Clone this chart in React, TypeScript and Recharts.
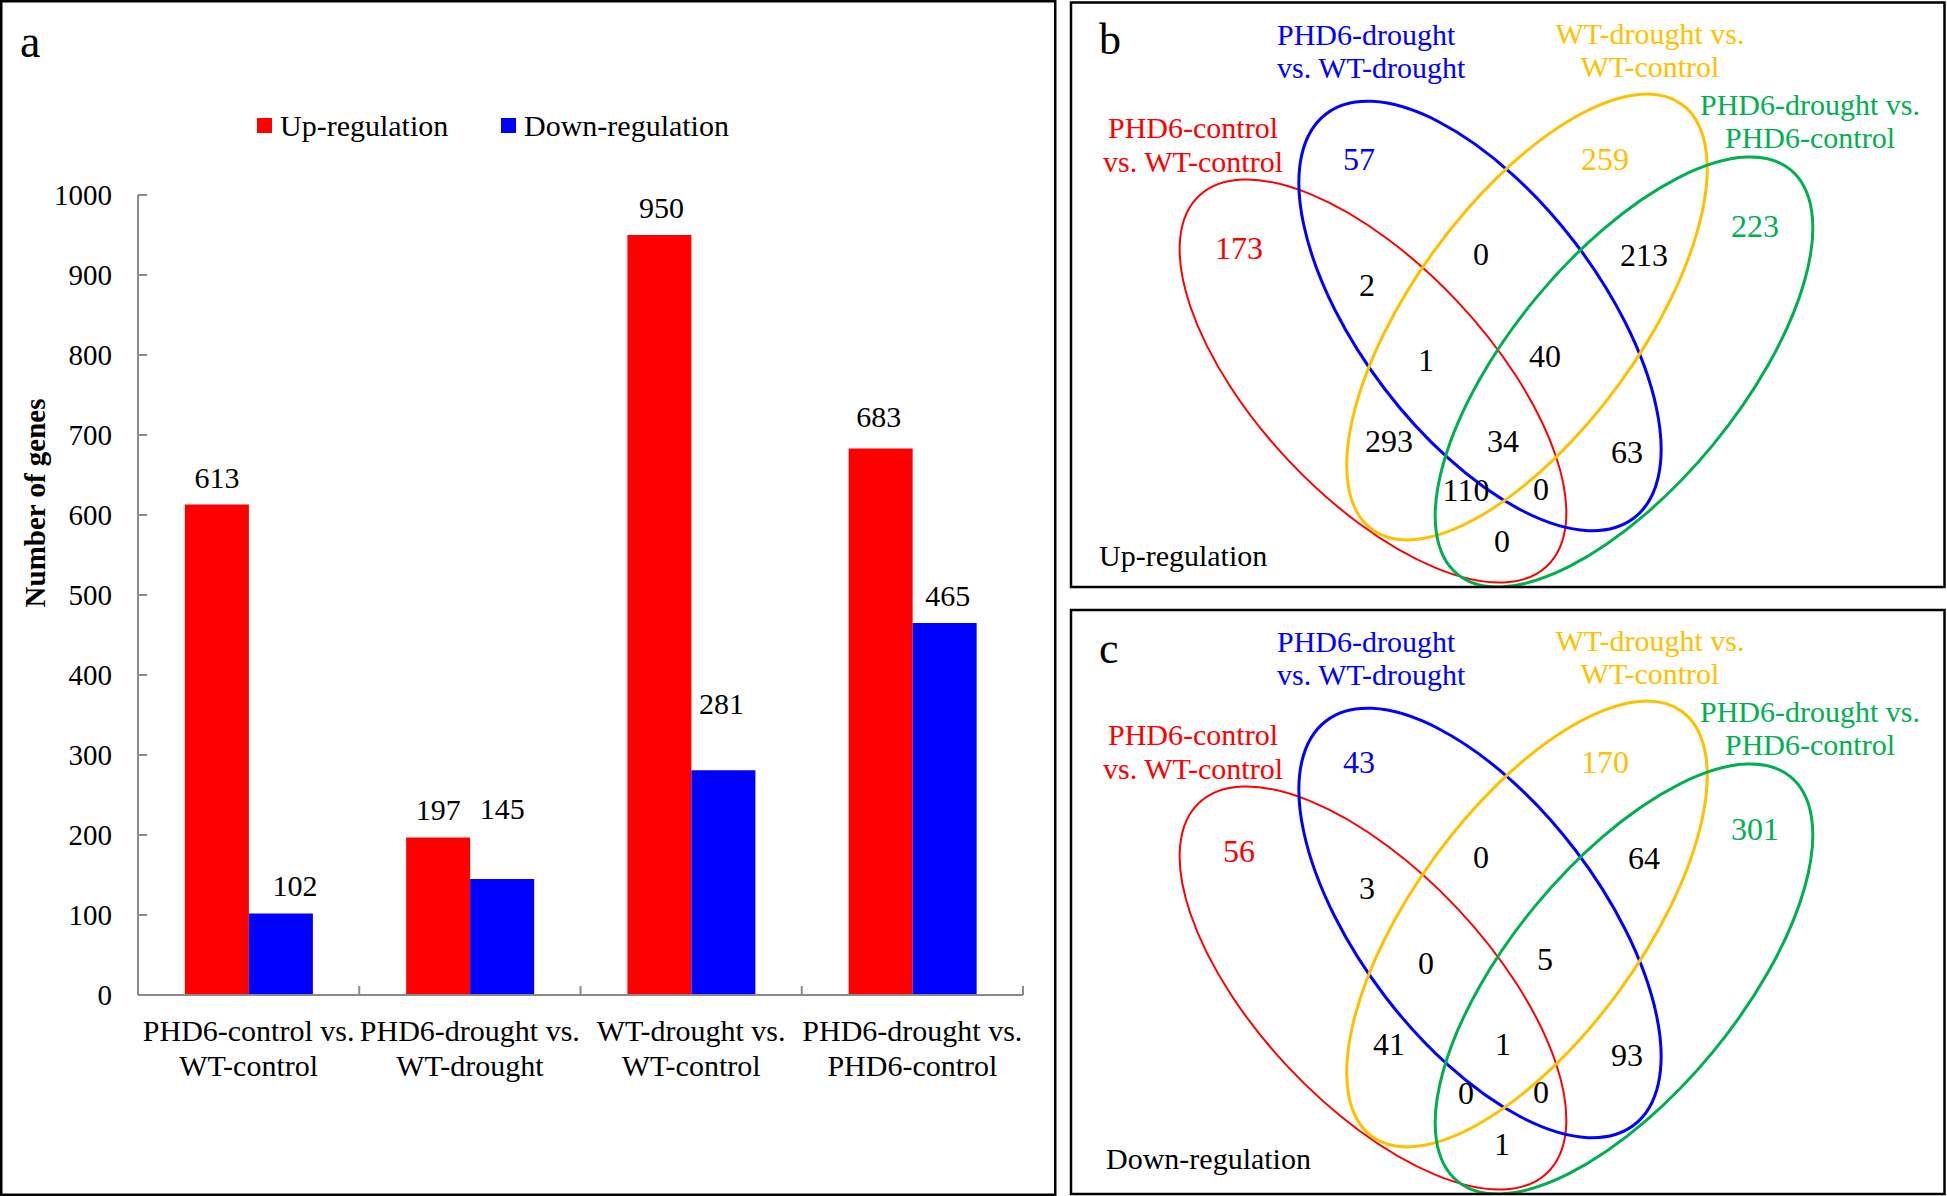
import React from "react";
import { BarChart, Bar, XAxis, YAxis, LabelList } from "recharts";

// bar chart (panel a)
const comparisons = [
  ["PHD6-control vs.", "WT-control"],
  ["PHD6-drought vs.", "WT-drought"],
  ["WT-drought vs.", "WT-control"],
  ["PHD6-drought vs.", "PHD6-control"],
];
const upGenes = [613, 197, 950, 683];
const downGenes = [102, 145, 281, 465];
const yTicks = [0, 100, 200, 300, 400, 500, 600, 700, 800, 900, 1000];
const seriesNames = ["Up-regulation", "Down-regulation"];

// venn diagrams (panels b, c)
const setLabels = [
  ["PHD6-control", "vs. WT-control"],
  ["PHD6-drought", "vs. WT-drought"],
  ["WT-drought vs.", "WT-control"],
  ["PHD6-drought vs.", "PHD6-control"],
];
// R = set 1, B = set 2, Y = set 3, G = set 4
const regionKeys = ["R", "B", "Y", "G", "BY", "RB", "YG", "RBY", "BYG", "RY", "RBYG", "BG", "RYG", "RBG", "RG"];
const upOverlap = [173, 57, 259, 223, 0, 2, 213, 1, 40, 293, 34, 63, 110, 0, 0];
const downOverlap = [56, 43, 170, 301, 0, 3, 64, 0, 5, 41, 1, 93, 0, 0, 1];

const FONT = "'Liberation Serif', 'Times New Roman', serif";
const AXIS = "#8a8a8a";
const RED = "#FF0000";
const BLUE = "#0000FF";
const SET_COLORS = ["#FF0000", "#0000FF", "#FFC000", "#00B050"];

const PLOT_LEFT = 138;
const PLOT_RIGHT = 1023;

const barData = comparisons.map((c, i) => ({
  name: c.join(" "),
  up: upGenes[i],
  down: downGenes[i],
}));

// label nudges so the numbers don't collide (as in the original figure)
const upNudge = { dx: [0, 0, 2, -2], lift: [0, 0, 0, 5] };
const downNudge = { dx: [14, 0, -2, 3], lift: [0, 43, 39, 0] };

const makeLabel = (nudge: { dx: number[]; lift: number[] }) => (props: any) => {
  const vb = props.viewBox || {};
  const x = props.x ?? vb.x;
  const y = props.y ?? vb.y;
  const w = props.width ?? vb.width;
  const i = props.index ?? 0;
  return (
    <text
      x={x + w / 2 + (nudge.dx[i] || 0)}
      y={y - 17 - (nudge.lift[i] || 0)}
      textAnchor="middle"
      fontFamily={FONT}
      fontSize={30}
      fill="#000"
    >
      {props.value}
    </text>
  );
};

const YTick = (props: any) => {
  const { x, y, payload } = props;
  return (
    <g>
      <line x1={PLOT_LEFT} x2={PLOT_LEFT + 9} y1={y} y2={y} stroke={AXIS} strokeWidth={2} />
      <text x={x} y={y} dy="0.35em" textAnchor="end" fontFamily={FONT} fontSize={29} fill="#000">
        {payload.value}
      </text>
    </g>
  );
};

const XTick = (props: any) => {
  const { x, y, index } = props;
  const half = (PLOT_RIGHT - PLOT_LEFT) / comparisons.length / 2;
  const lines = comparisons[index] || [];
  return (
    <g>
      <line x1={x + half} x2={x + half} y1={y} y2={y - 9} stroke={AXIS} strokeWidth={2} />
      <text x={x} y={y + 46} textAnchor="middle" fontFamily={FONT} fontSize={30} fill="#000">
        {lines[0]}
      </text>
      <text x={x} y={y + 81} textAnchor="middle" fontFamily={FONT} fontSize={30} fill="#000">
        {lines[1]}
      </text>
    </g>
  );
};

// ellipse shapes measured from panel b; panel c is the same shifted down
const ellipses = [
  { cx: 1373, cy: 381, rx: 254, ry: 116, rot: 46.8, w: 2 },
  { cx: 1480, cy: 316, rx: 254, ry: 120, rot: 52.7, w: 3 },
  { cx: 1527, cy: 317, rx: 263, ry: 114, rot: -53.9, w: 3 },
  { cx: 1624, cy: 372, rx: 262, ry: 115, rot: -50.5, w: 3 },
];

const regionPos: Record<string, [number, number]> = {
  R: [1239, 248],
  B: [1359, 159],
  Y: [1605, 159],
  G: [1755, 226],
  BY: [1481, 254],
  RB: [1367, 285],
  YG: [1644, 255],
  RBY: [1426, 360],
  BYG: [1545, 356],
  RY: [1389, 441],
  RBYG: [1503, 441],
  BG: [1627, 452],
  RYG: [1466, 490],
  RBG: [1541, 489],
  RG: [1502, 541],
};

const labelPos = [
  { x: 1193, y1: 127, y2: 161, anchor: "middle" },
  { x: 1277, y1: 34, y2: 67, anchor: "start" },
  { x: 1650, y1: 33, y2: 66, anchor: "middle" },
  { x: 1810, y1: 104, y2: 137, anchor: "middle" },
];

const Venn = ({
  counts,
  shift,
  numShift,
  letter,
  title,
  titleX,
  titleY,
  clipId,
}: {
  counts: number[];
  shift: number;
  numShift: number;
  letter: string;
  title: string;
  titleX: number;
  titleY: number;
  clipId: string;
}) => {
  const top = shift === 0 ? 2.5 : 610;
  const h = shift === 0 ? 584.5 : 584;
  return (
    <g>
      <defs>
        <clipPath id={clipId}>
          <rect x={1071} y={top} width={873.5} height={h} />
        </clipPath>
      </defs>
      <g clipPath={`url(#${clipId})`}>
        {ellipses.map((e, i) => (
          <ellipse
            key={i}
            cx={e.cx}
            cy={e.cy + shift}
            rx={e.rx}
            ry={e.ry}
            transform={`rotate(${e.rot} ${e.cx} ${e.cy + shift})`}
            fill="none"
            stroke={SET_COLORS[i]}
            strokeWidth={e.w}
          />
        ))}
      </g>
      <rect x={1071} y={top} width={873.5} height={h} fill="none" stroke="#000" strokeWidth={2.5} />
      <text x={1099} y={(shift === 0 ? 54 : 663)} fontFamily={FONT} fontSize={44} fill="#000">
        {letter}
      </text>
      {setLabels.map((lines, i) => (
        <g key={i} fontFamily={FONT} fontSize={30} fill={SET_COLORS[i]} textAnchor={labelPos[i].anchor as any}>
          <text x={labelPos[i].x} y={labelPos[i].y1 + shift} dy="0.35em">
            {lines[0]}
          </text>
          <text x={labelPos[i].x} y={labelPos[i].y2 + shift} dy="0.35em">
            {lines[1]}
          </text>
        </g>
      ))}
      {regionKeys.map((k, i) => {
        const [x, y] = regionPos[k];
        const color = k.length === 1 ? SET_COLORS["RBYG".indexOf(k)] : "#000";
        return (
          <text
            key={k}
            x={x}
            y={y + numShift}
            dy="0.35em"
            textAnchor="middle"
            fontFamily={FONT}
            fontSize={32}
            fill={color}
          >
            {counts[i]}
          </text>
        );
      })}
      <text x={titleX} y={titleY} fontFamily={FONT} fontSize={30} fill="#000">
        {title}
      </text>
    </g>
  );
};

export default function App() {
  return (
    <div
      style={{
        position: "absolute",
        left: 0,
        top: 0,
        width: 1947,
        height: 1196,
        background: "#fff",
        overflow: "hidden",
      }}
    >
      <div style={{ position: "absolute", left: 0, top: 0 }}>
        <BarChart
          width={1056}
          height={1196}
          data={barData}
          margin={{ top: 195, right: 1056 - PLOT_RIGHT, bottom: 81, left: PLOT_LEFT - 100 }}
          barCategoryGap="21.2%"
          barGap={0}
        >
          <XAxis
            dataKey="name"
            interval={0}
            height={120}
            tickSize={0}
            tickMargin={0}
            tickLine={false}
            axisLine={{ stroke: AXIS, strokeWidth: 2 }}
            tick={<XTick />}
          />
          <YAxis
            width={100}
            domain={[0, 1000]}
            ticks={yTicks}
            interval={0}
            tickSize={0}
            tickMargin={26}
            tickLine={false}
            axisLine={{ stroke: AXIS, strokeWidth: 2 }}
            tick={<YTick />}
          />
          <Bar dataKey="up" name={seriesNames[0]} fill={RED} isAnimationActive={false}>
            <LabelList dataKey="up" content={makeLabel(upNudge)} />
          </Bar>
          <Bar dataKey="down" name={seriesNames[1]} fill={BLUE} isAnimationActive={false}>
            <LabelList dataKey="down" content={makeLabel(downNudge)} />
          </Bar>
        </BarChart>
      </div>
      <svg
        width={1947}
        height={1196}
        style={{ position: "absolute", left: 0, top: 0, pointerEvents: "none" }}
      >
        {/* panel a frame, letter, legend, y label */}
        <rect x={1.25} y={1.25} width={1054} height={1193.5} fill="none" stroke="#000" strokeWidth={2.5} />
        <text x={20} y={57} fontFamily={FONT} fontSize={46} fill="#000">
          a
        </text>
        <rect x={257} y={118} width={15} height={15} fill={RED} />
        <text x={280} y={136} fontFamily={FONT} fontSize={30} fill="#000">
          {seriesNames[0]}
        </text>
        <rect x={501} y={118} width={15} height={15} fill={BLUE} />
        <text x={524} y={136} fontFamily={FONT} fontSize={30} fill="#000">
          {seriesNames[1]}
        </text>
        <text
          transform="translate(45 503) rotate(-90)"
          textAnchor="middle"
          fontFamily={FONT}
          fontSize={29}
          fontWeight="bold"
          fill="#000"
        >
          Number of genes
        </text>

        <Venn
          counts={upOverlap}
          shift={0}
          numShift={0}
          letter="b"
          title="Up-regulation"
          titleX={1099}
          titleY={566}
          clipId="clipB"
        />
        <Venn
          counts={downOverlap}
          shift={607}
          numShift={603}
          letter="c"
          title="Down-regulation"
          titleX={1106}
          titleY={1169}
          clipId="clipC"
        />
      </svg>
    </div>
  );
}
